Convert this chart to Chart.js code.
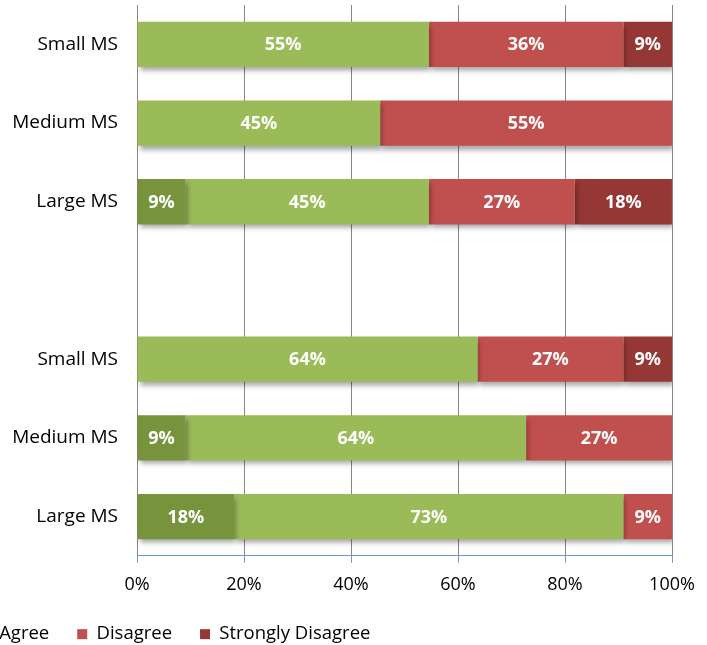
<!DOCTYPE html>
<html>
<head>
<meta charset="utf-8">
<script src="https://cdn.jsdelivr.net/npm/chart.js@4.4.1/dist/chart.umd.min.js"></script>
<style>
  html, body { margin: 0; padding: 0; background: #fff; overflow: hidden; width: 707px; height: 645px; }
  #wrap { position: absolute; left: 0; top: 0; width: 707px; height: 663px; }
</style>
</head>
<body>
<div id="wrap"><canvas id="c" width="707" height="663"></canvas></div>
<script>
const categories = ['Small MS', 'Medium MS', 'Large MS', '', 'Small MS', 'Medium MS', 'Large MS'];
const seriesNames = ['Strongly Agree', 'Agree', 'Disagree', 'Strongly Disagree'];
const stronglyAgree    = [null,  null,  9.09, null, null,  9.09,  18.18];
const agree            = [54.55, 45.45, 45.45, null, 63.64, 63.64, 72.73];
const disagree         = [36.36, 54.55, 27.27, null, 27.27, 27.27, 9.09];
const stronglyDisagree = [9.09,  null,  18.18, null, 9.09,  null,  null];
const xTicks = [0, 20, 40, 60, 80, 100];
const colors = ['#77933C', '#9BBB59', '#C0504D', '#953735'];

const FONT = "'Open Sans', 'DejaVu Sans', sans-serif";

const shadowAndLabels = {
  id: 'shadowAndLabels',
  afterLayout(chart) {
    const lg = chart.legend;
    lg.left -= 221;
    lg.top = chart.chartArea.bottom + 41;
  },
  beforeDatasetsDraw(chart) {
    const ctx = chart.ctx;
    ctx.save();
    ctx.shadowColor = 'rgba(0,0,0,0.35)';
    ctx.shadowBlur = 5;
    ctx.shadowOffsetX = 2;
    ctx.shadowOffsetY = 4;
  },
  afterDatasetsDraw(chart) {
    const ctx = chart.ctx;
    ctx.restore();
    ctx.save();
    ctx.fillStyle = '#fff';
    ctx.font = "bold 18px " + FONT;
    ctx.textAlign = 'center';
    ctx.textBaseline = 'middle';
    chart.data.datasets.forEach((ds, di) => {
      const meta = chart.getDatasetMeta(di);
      meta.data.forEach((el, i) => {
        const v = ds.data[i];
        if (v == null || v === 0) return;
        const x = (el.x + el.base) / 2;
        ctx.fillText(Math.round(v) + '%', x, el.y + 1);
      });
    });
    ctx.restore();
  }
};

const seriesData = [stronglyAgree, agree, disagree, stronglyDisagree];

new Chart(document.getElementById('c'), {
  type: 'bar',
  data: {
    labels: categories,
    datasets: seriesNames.map((n, k) => ({
      label: n,
      data: seriesData[k],
      backgroundColor: colors[k],
      borderWidth: 0,
      barPercentage: 0.575,
      categoryPercentage: 1.0
    }))
  },
  options: {
    indexAxis: 'y',
    responsive: false,
    animation: false,
    devicePixelRatio: 1,
    layout: { padding: { left: 0, right: 35, top: 5, bottom: 0 } },
    scales: {
      x: {
        stacked: true,
        min: 0,
        max: 100,
        afterBuildTicks: (scale) => { scale.ticks = xTicks.map(v => ({ value: v })); },
        grid: { color: '#868686', lineWidth: 1, drawTicks: true, tickLength: 7, tickColor: '#6C9BD2' },
        border: { color: '#6C9BD2', width: 1 },
        ticks: {
          padding: 11,
          color: '#000',
          font: { family: FONT, size: 18 },
          callback: (v) => v + '%',
          maxRotation: 0
        }
      },
      y: {
        stacked: true,
        afterFit: (scale) => { scale.width = 137; scale.paddingTop = 0; scale.paddingBottom = 0; },
        grid: { display: false, drawTicks: false },
        border: { color: '#868686', width: 1 },
        ticks: {
          padding: 19,
          color: '#000',
          font: { family: FONT, size: 19 }
        }
      }
    },
    plugins: {
      legend: {
        display: true,
        position: 'bottom',
        align: 'start',
        labels: {
          boxWidth: 10,
          boxHeight: 10,
          padding: 28,
          color: '#000',
          font: { family: FONT, size: 18.5 }
        }
      },
      tooltip: { enabled: false }
    }
  },
  plugins: [shadowAndLabels]
});
</script>
</body>
</html>
